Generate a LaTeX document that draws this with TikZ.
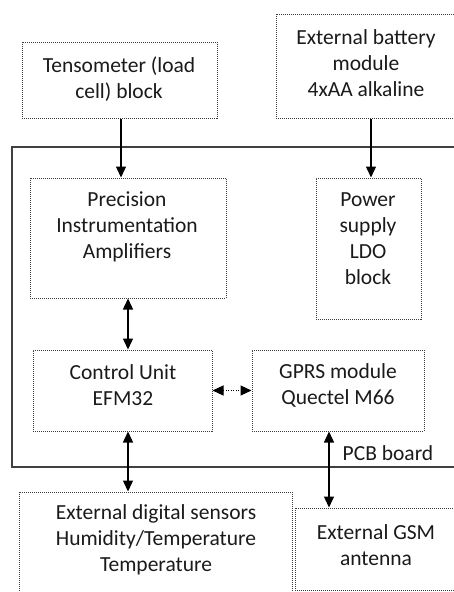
\documentclass[tikz,border=0pt]{standalone}
\usepackage{fontspec}
\setmainfont{Carlito}
\usetikzlibrary{arrows.meta,calc}
\definecolor{ink}{HTML}{1A1A1A}
\definecolor{dotgray}{HTML}{3C3C3C}
\tikzset{
  blk/.style={draw=dotgray, dash pattern=on 1pt off 1pt, line width=1pt, inner sep=0pt},
  txt/.style={align=center, text=ink, font=\fontsize{21.5}{26}\selectfont, inner sep=0pt},
  link/.style={draw=black, line width=1.4pt, -{Triangle[width=10pt,length=11pt]}},
  duplex/.style={draw=black, line width=1.4pt, {Triangle[width=10pt,length=11pt]}-{Triangle[width=10pt,length=11pt]}},
  dotduplex/.style={draw=black, line width=1pt, dash pattern=on 1pt off 1.5pt, {Triangle[width=10pt,length=11pt]}-{Triangle[width=10pt,length=11pt]}},
}
\begin{document}
\begin{tikzpicture}[x=1pt,y=-1pt]
\useasboundingbox (0,0) rectangle (454,592);
\clip (0,0) rectangle (454,592);

% PCB outline
\draw[draw=black!75, line width=1.3pt] (12,147) rectangle (480,467);
\node[txt] (pcblabel) at (388,453) {PCB board};

% blocks
\node[blk, minimum width=195pt, minimum height=76pt] (tens) at (119.5,80) {};
\node[blk, minimum width=194pt, minimum height=104pt] (batt) at (373,66) {};
\node[blk, minimum width=196pt, minimum height=120pt] (prec) at (128,238) {};
\node[blk, minimum width=105pt, minimum height=141pt] (power) at (368.5,248.5) {};
\node[blk, minimum width=179pt, minimum height=81pt] (ctrl) at (122.5,390.5) {};
\node[blk, minimum width=172pt, minimum height=81pt] (gprs) at (338,390.5) {};
\node[blk, minimum width=273pt, minimum height=118pt] (sens) at (155.5,551) {};
\node[blk, minimum width=175pt, minimum height=82pt] (gsm) at (382.5,549) {};

% block texts
\node[txt] (tenst) at (119,79) {Tensometer (load\\cell) block};
\node[txt] (battt) at (366,63) {External battery\\module\\4xAA alkaline};
\node[txt] (prect) at (127,227) {Precision\\Instrumentation\\Amplifiers};
\node[txt] (powert) at (368,239) {Power\\supply\\LDO\\block};
\node[txt] (ctrlt) at (123,385) {Control Unit\\EFM32};
\node[txt] (gprst) at (338,385) {GPRS module\\Quectel M66};
\node[txt] (senst) at (156,540) {External digital sensors\\Humidity/Temperature\\Temperature};
\node[txt] (gsmt) at (376,545) {External GSM\\antenna};

% connectors
\draw[link] ($(tens.south)+(1.5,0)$) -- ($(prec.north)+(-7,0)$);
\draw[link] ($(batt.south)+(-2,0)$) -- ($(power.north)+(2.5,0)$);
\draw[duplex] (prec.south) -- ($(ctrl.north)+(5.5,0)$);
\draw[duplex] ($(ctrl.south)+(5.5,0)$) -- ($(sens.north)+(-27.5,0)$);
\draw[duplex] ($(gprs.south)+(-9,0)$) -- ($(gsm.north)+(-53.5,0)$);
\draw[dotduplex] (ctrl.east) -- (gprs.west);
\end{tikzpicture}
\end{document}
